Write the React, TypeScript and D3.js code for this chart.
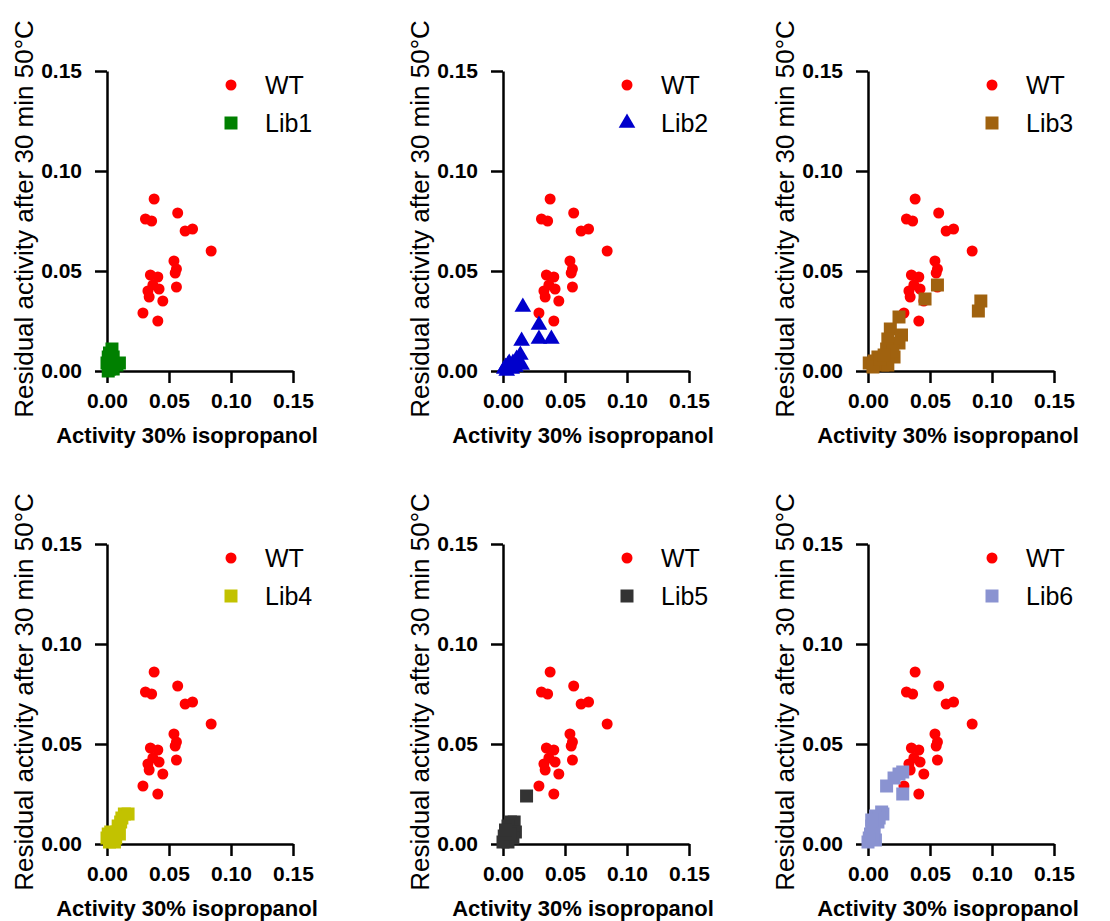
import React, { useEffect, useRef } from 'react';
import * as d3 from 'd3';

// x = activity in 30% isopropanol, y = residual activity after 30 min at 50°C
const wt: [number, number][] = [
  [0.038, 0.086], [0.057, 0.079], [0.031, 0.076], [0.036, 0.075], [0.063, 0.070],
  [0.069, 0.071], [0.084, 0.060], [0.054, 0.055], [0.056, 0.051], [0.055, 0.049],
  [0.035, 0.048], [0.041, 0.047], [0.037, 0.043], [0.042, 0.041], [0.056, 0.042],
  [0.033, 0.040], [0.034, 0.037], [0.045, 0.035], [0.029, 0.029], [0.041, 0.025],
];

const lib1: [number, number][] = [
  [0.002, 0.009], [0.004, 0.011], [0.001, 0.007], [0.005, 0.007], [0.000, 0.004],
  [0.003, 0.004], [0.010, 0.004], [0.008, 0.003], [0.002, 0.001], [0.005, 0.001],
  [0.001, 0.000], [0.004, 0.002],
];

const lib2: [number, number][] = [
  [0.016, 0.032], [0.029, 0.023], [0.029, 0.016], [0.039, 0.016], [0.015, 0.015],
  [0.014, 0.008], [0.011, 0.006], [0.015, 0.003], [0.002, 0.002], [0.005, 0.004],
  [0.007, 0.001], [0.008, 0.004], [0.003, 0.000], [0.004, 0.003], [0.010, 0.002],
  [0.001, 0.001],
];

const lib3: [number, number][] = [
  [0.056, 0.043], [0.046, 0.036], [0.091, 0.035], [0.089, 0.030], [0.025, 0.027],
  [0.018, 0.021], [0.027, 0.018], [0.025, 0.014], [0.016, 0.016], [0.015, 0.011],
  [0.021, 0.007], [0.008, 0.007], [0.001, 0.004], [0.005, 0.005], [0.012, 0.003],
  [0.016, 0.003], [0.004, 0.002], [0.010, 0.006], [0.020, 0.010], [0.013, 0.008],
];

const lib4: [number, number][] = [
  [0.014, 0.015], [0.017, 0.015], [0.012, 0.013], [0.011, 0.011], [0.009, 0.009],
  [0.008, 0.006], [0.003, 0.006], [0.010, 0.005], [0.000, 0.003], [0.004, 0.004],
  [0.006, 0.001], [0.002, 0.001], [0.001, 0.005], [0.007, 0.003],
];

const lib5: [number, number][] = [
  [0.019, 0.024], [0.006, 0.011], [0.009, 0.011], [0.004, 0.009], [0.010, 0.006],
  [0.001, 0.004], [0.008, 0.003], [0.004, 0.001], [0.000, 0.001], [0.006, 0.005],
  [0.002, 0.007],
];

const lib6: [number, number][] = [
  [0.028, 0.036], [0.025, 0.035], [0.021, 0.033], [0.015, 0.029], [0.028, 0.025],
  [0.011, 0.016], [0.012, 0.015], [0.006, 0.014], [0.008, 0.011], [0.003, 0.009],
  [0.005, 0.007], [0.002, 0.005], [0.006, 0.002], [0.000, 0.001], [0.004, 0.003],
  [0.001, 0.003], [0.009, 0.013], [0.003, 0.012],
];

const libNames = ['Lib1', 'Lib2', 'Lib3', 'Lib4', 'Lib5', 'Lib6'];
const libData = [lib1, lib2, lib3, lib4, lib5, lib6];
const libColors = ['#008000', '#0000cc', '#a0620f', '#c2c200', '#333333', '#8a93d1'];
const ticks = [0, 0.05, 0.1, 0.15];

const FONT = '"Liberation Sans", Arial, sans-serif';

const App = () => {
  const ref = useRef<SVGSVGElement>(null);

  useEffect(() => {
    const svg = d3.select(ref.current);
    svg.selectAll('*').remove();

    const colX = [107, 503, 868];
    const rowY = [371, 844];
    const w = 186;
    const h = 300;

    libNames.forEach((name, i) => {
      const x0 = colX[i % 3];
      const y0 = rowY[Math.floor(i / 3)];
      const g = svg.append('g').attr('transform', `translate(${x0},${y0 - h})`);

      const x = d3.scaleLinear().domain([0, 0.15]).range([0, w]);
      const y = d3.scaleLinear().domain([0, 0.15]).range([h, 0]);

      const xAxis = g.append('g')
        .attr('transform', `translate(0,${h})`)
        .call(d3.axisBottom(x).tickValues(ticks).tickFormat(d3.format('.2f')).tickSize(12).tickSizeOuter(0).tickPadding(10));
      const yAxis = g.append('g')
        .call(d3.axisLeft(y).tickValues(ticks).tickFormat(d3.format('.2f')).tickSize(12).tickSizeOuter(0).tickPadding(13));

      [xAxis, yAxis].forEach(a => {
        a.select('.domain').attr('stroke', '#000').attr('stroke-width', 2.5);
        a.selectAll('.tick line').attr('stroke', '#000').attr('stroke-width', 2.5);
        a.selectAll('.tick text')
          .attr('fill', '#000')
          .style('font-family', FONT)
          .style('font-size', '21px')
          .style('font-weight', 'bold');
      });

      // axis titles
      g.append('text')
        .attr('x', 80)
        .attr('y', h + 72)
        .attr('text-anchor', 'middle')
        .style('font-family', FONT)
        .style('font-size', '22px')
        .style('font-weight', 'bold')
        .text('Activity 30% isopropanol');

      g.append('text')
        .attr('transform', `translate(-74,${h / 2 - 2}) rotate(-90)`)
        .attr('text-anchor', 'middle')
        .style('font-family', FONT)
        .style('font-size', '26px')
        .text('Residual activity after 30 min 50°C');

      const circle = d3.symbol().type(d3.symbolCircle).size(95);
      const libSymbol = i === 1
        ? d3.symbol().type(d3.symbolTriangle).size(120)
        : d3.symbol().type(d3.symbolSquare).size(169);

      g.selectAll('.wt')
        .data(wt)
        .enter().append('path')
        .attr('class', 'wt')
        .attr('d', circle)
        .attr('transform', d => `translate(${x(d[0])},${y(d[1])})`)
        .attr('fill', '#ff0000');

      g.selectAll('.lib')
        .data(libData[i])
        .enter().append('path')
        .attr('class', 'lib')
        .attr('d', libSymbol)
        .attr('transform', d => `translate(${x(d[0])},${y(d[1])})`)
        .attr('fill', libColors[i]);

      // legend
      const leg = g.append('g').attr('transform', `translate(124,${h - 286})`);
      leg.append('path').attr('d', circle).attr('fill', '#ff0000');
      leg.append('text')
        .attr('x', 34).attr('y', 9)
        .style('font-family', FONT).style('font-size', '25px')
        .text('WT');
      leg.append('path')
        .attr('d', libSymbol)
        .attr('transform', 'translate(0,38)')
        .attr('fill', libColors[i]);
      leg.append('text')
        .attr('x', 34).attr('y', 47)
        .style('font-family', FONT).style('font-size', '25px')
        .text(name);
    });
  }, []);

  return (
    <svg ref={ref} width={1110} height={921} style={{ position: 'absolute', left: 0, top: 0, background: '#fff' }}></svg>
  );
};

export default App;
